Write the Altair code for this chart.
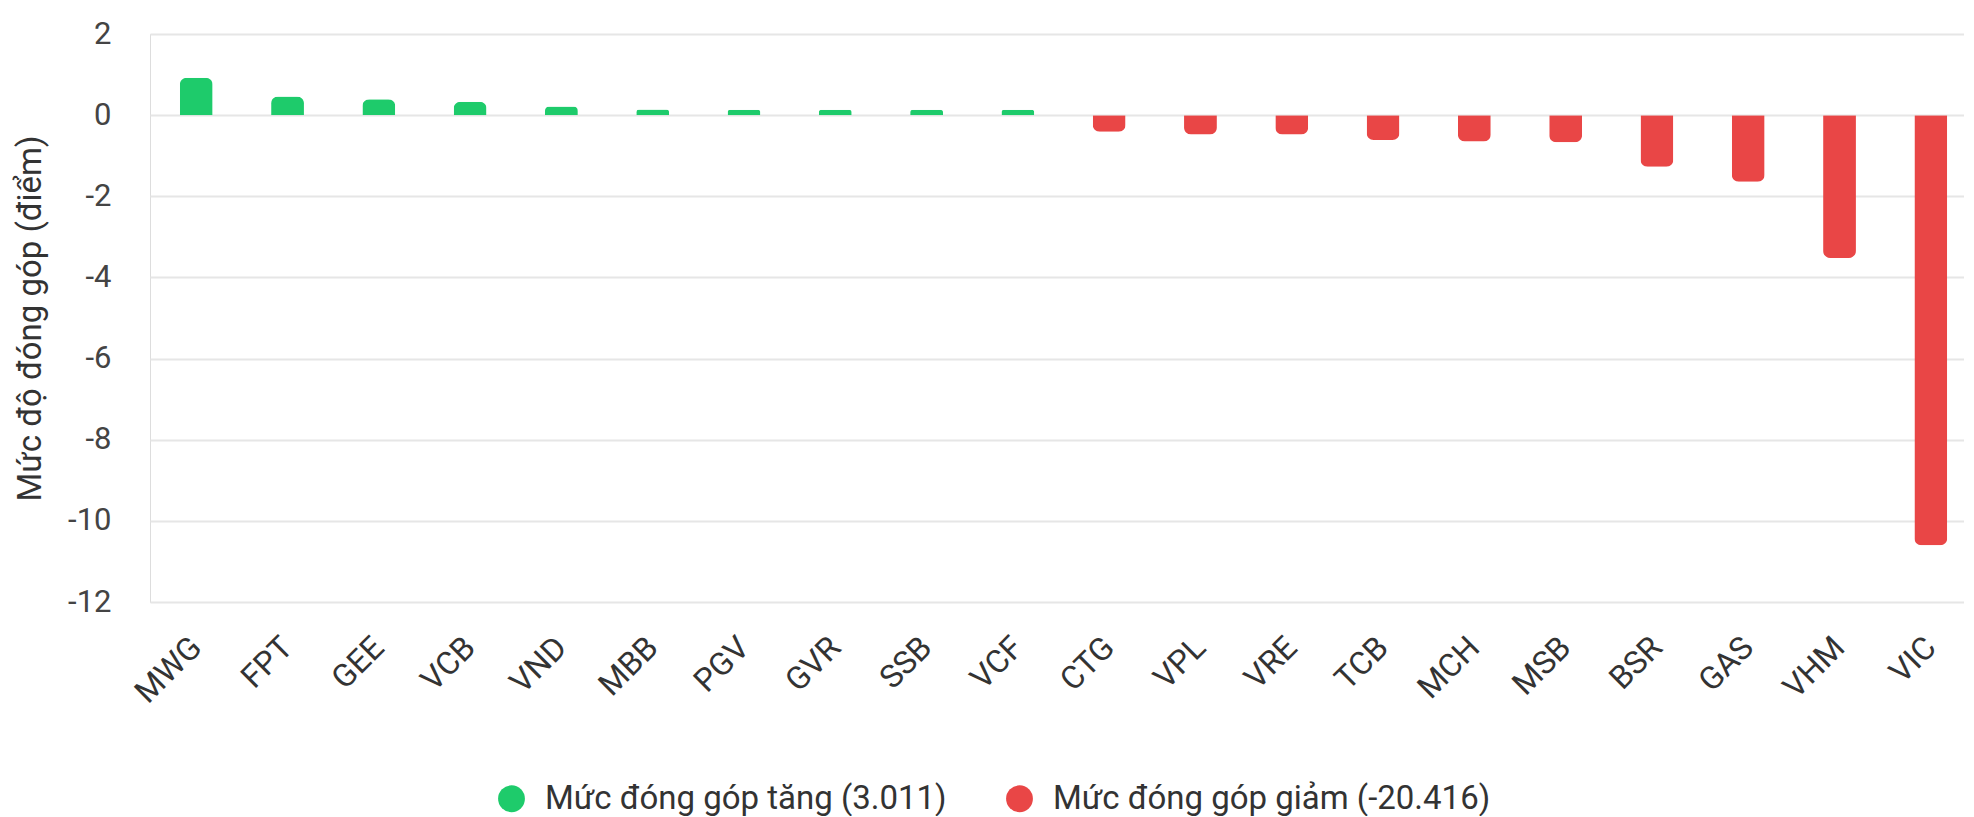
import altair as alt
import pandas as pd

tickers = ["MWG", "FPT", "GEE", "VCB", "VND", "MBB", "PGV", "GVR", "SSB", "VCF",
           "CTG", "VPL", "VRE", "TCB", "MCH", "MSB", "BSR", "GAS", "VHM", "VIC"]
values = [0.92, 0.46, 0.39, 0.33, 0.21, 0.14, 0.13, 0.13, 0.13, 0.13,
          -0.41, -0.48, -0.48, -0.61, -0.65, -0.67, -1.27, -1.64, -3.52, -10.6]
group_labels = ["Mức đóng góp tăng (3.011)", "Mức đóng góp giảm (-20.416)"]
group_colors = ["#1ECB6B", "#E94646"]
y_ticks = [2, 0, -2, -4, -6, -8, -10, -12]

df = pd.DataFrame({
    "ticker": tickers,
    "value": values,
    "group": [group_labels[0] if v >= 0 else group_labels[1] for v in values],
})

FONT = "Roboto"

base = alt.Chart(df).encode(
    x=alt.X("ticker:N", sort=tickers,
            scale=alt.Scale(domain=tickers, paddingInner=0.64, paddingOuter=0.255,
                            align=0.64),
            axis=alt.Axis(title=None, labelAngle=-45, labelAlign="right",
                          labelBaseline="middle", labelFontSize=32,
                          labelColor="#333333", labelFont=FONT,
                          labelPadding=40, domain=False, ticks=False, grid=False)),
    y=alt.Y("value:Q",
            scale=alt.Scale(domain=[-12, 2], nice=False),
            axis=alt.Axis(title="Mức độ đóng góp (điểm)", values=y_ticks,
                          labelExpr="'' + datum.value",
                          titleFontSize=33, titleFont=FONT, titleFontWeight="normal",
                          titleColor="#333333", titlePadding=20,
                          labelFontSize=31, labelFont=FONT, labelColor="#444444",
                          labelPadding=39, domain=False, ticks=False,
                          gridColor="#E6E6E6", gridWidth=2)),
    color=alt.Color("group:N",
                    scale=alt.Scale(domain=group_labels, range=group_colors),
                    legend=alt.Legend(title=None, orient="none", direction="horizontal",
                                      legendX=345, legendY=748,
                                      symbolType="circle", symbolSize=720,
                                      symbolStrokeWidth=0, labelFontSize=33,
                                      labelFont=FONT, labelColor="#333333",
                                      labelOffset=17, labelLimit=800,
                                      columnPadding=56, padding=0)),
)

pos = base.transform_filter("datum.value >= 0").mark_bar(
    cornerRadiusTopLeft=7, cornerRadiusTopRight=7)
neg = base.transform_filter("datum.value < 0").mark_bar(
    cornerRadiusBottomLeft=7, cornerRadiusBottomRight=7)

chart = alt.layer(pos, neg).properties(
    width=1814,
    height=568,
    padding={"left": 6, "top": 10, "right": 0, "bottom": 0},
).configure_view(
    stroke=None
).configure(
    background="white"
)

chart.save("out.html", embed_options={"renderer": "svg", "actions": False})
